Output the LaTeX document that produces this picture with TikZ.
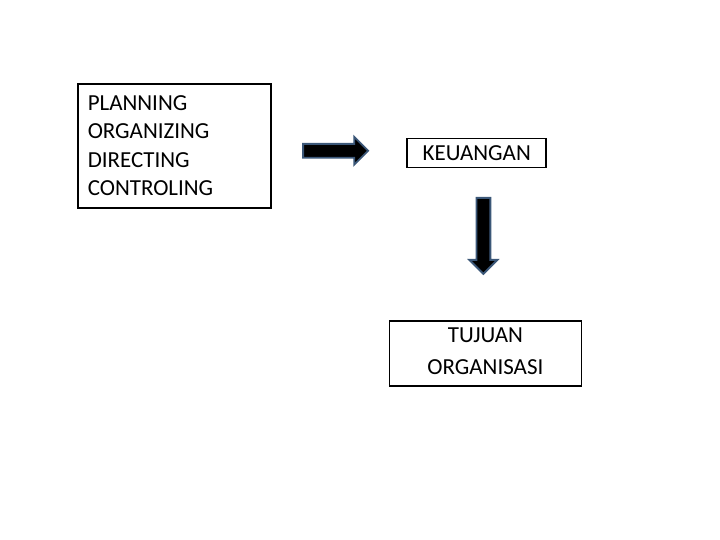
\documentclass[tikz,border=0pt]{standalone}
\usepackage{fontspec}
\setmainfont{Carlito}
\usepackage{xcolor}
\usetikzlibrary{shapes.arrows, positioning, calc}
\definecolor{arrowrim}{HTML}{3B5778}

\begin{document}
\begin{tikzpicture}[font=\fontsize{19.6}{24.2}\selectfont]
    % Styles
    \tikzstyle{box} = [rectangle, draw, line width=1.3pt, inner xsep=0.3cm]
    \tikzstyle{blockarrow} = [single arrow, draw=arrowrim, fill=black, line width=1.6pt, inner sep=0.18cm, single arrow head extend=0.21cm, single arrow tip angle=90]

    \useasboundingbox (0,0) rectangle (21.6,-16.2);

    % --- MANAGEMENT FUNCTIONS ---
    \node [box, anchor=north west, minimum width=5.79cm, minimum height=3.72cm, text width=5.19cm, align=left] (func) at (2.31,-2.49) {PLANNING\\ORGANIZING\\DIRECTING\\CONTROLING};

    % --- FLOW ---
    \node [blockarrow, minimum height=1.95cm, right=0.92cm of func, yshift=-0.15cm] (arrowright) {};
    \node [box, minimum width=4.17cm, minimum height=0.87cm, right=1.11cm of arrowright, yshift=-0.07cm] (keu) {KEUANGAN};
    \node [blockarrow, minimum height=2.28cm, shape border rotate=270] (arrowdown) at ($(keu.south)+(0.2,-1.92)$) {};
    \node [box, minimum width=5.76cm, minimum height=1.95cm, align=center, below=1.36cm of arrowdown, xshift=0.06cm] (goal) {\raisebox{4.7pt}{TUJUAN}\\[3.4pt]\raisebox{4.7pt}{ORGANISASI}};

\end{tikzpicture}
\end{document}
